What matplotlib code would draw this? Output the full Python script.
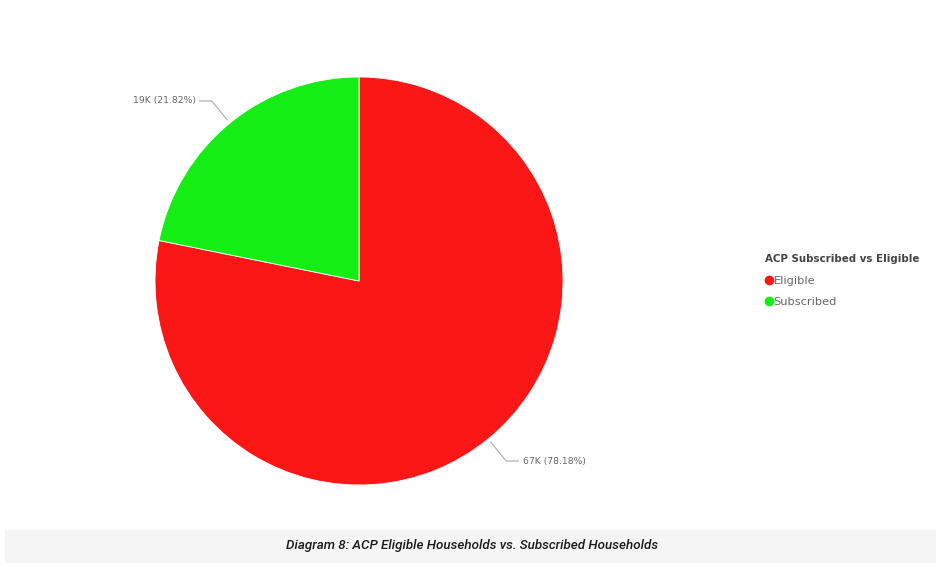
import numpy as np
import matplotlib
matplotlib.use('Agg')
from matplotlib import pyplot as plt
from matplotlib.lines import Line2D
from matplotlib.patches import Rectangle

# data
categories = ['Eligible', 'Subscribed']
shares = [78.18, 21.82]
counts = ['67K', '19K']
colors = ['#FC1717', '#14EE14']
legend_title = 'ACP Subscribed vs Eligible'
caption = 'Diagram 8: ACP Eligible Households vs. Subscribed Households'

fig = plt.figure(figsize=(9.5, 5.67), dpi=100)
W, H = 950, 567

# pie axes, placed in pixels
cx, cy, r = 359, 281, 204
ax = fig.add_axes([(cx - r) / W, (H - cy - r) / H, 2 * r / W, 2 * r / H])
wedges, _ = ax.pie(shares, colors=colors, startangle=90, counterclock=False,
                   radius=1, wedgeprops=dict(edgecolor='white', linewidth=0.6))
ax.set_xlim(-1, 1)
ax.set_ylim(-1, 1)
ax.set_aspect('equal')
ax.axis('off')

# leader lines + labels
for w, c, s in zip(wedges, counts, shares):
    ang = np.deg2rad((w.theta1 + w.theta2) / 2)
    x0, y0 = 1.02 * np.cos(ang), 1.02 * np.sin(ang)
    x1, y1 = 1.14 * np.cos(ang), 1.14 * np.sin(ang)
    side = 1 if np.cos(ang) > 0 else -1
    x2 = x1 + side * 0.06
    ax.plot([x0, x1, x2], [y0, y1, y1], color='#aaaaaa', lw=0.8,
            clip_on=False)
    ax.text(x2 + side * 0.02, y1, f'{c} ({s:.2f}%)', color='#666666',
            fontsize=6.7, va='center', ha='left' if side > 0 else 'right',
            family='DejaVu Sans')

# legend
handles = [Line2D([], [], marker='o', ls='', color=col, markersize=6)
           for col in colors]
leg = fig.legend(handles, categories, title=legend_title,
                 loc='upper left', bbox_to_anchor=(760 / W, 1 - 249 / H),
                 frameon=False, handletextpad=0.0, handlelength=0.8,
                 labelspacing=1.05, prop=dict(size=8.2), alignment='left',
                 borderaxespad=0)
leg.get_title().set_fontweight('bold')
leg.get_title().set_fontsize(7.4)
leg.get_title().set_color('#444444')
for t in leg.get_texts():
    t.set_color('#666666')

# caption band
fig.patches.append(Rectangle((5 / W, 1 - 562 / H), 930 / W, 32 / H,
                             transform=fig.transFigure, color='#f5f5f5',
                             zorder=0))
fig.text(472 / W, 1 - 546 / H, caption, ha='center', va='center',
         fontsize=9.6, style='italic', color='#1a1a1a', family='Roboto',
         fontstretch='condensed', fontweight='medium')

fig.savefig('out.png', dpi=100)
